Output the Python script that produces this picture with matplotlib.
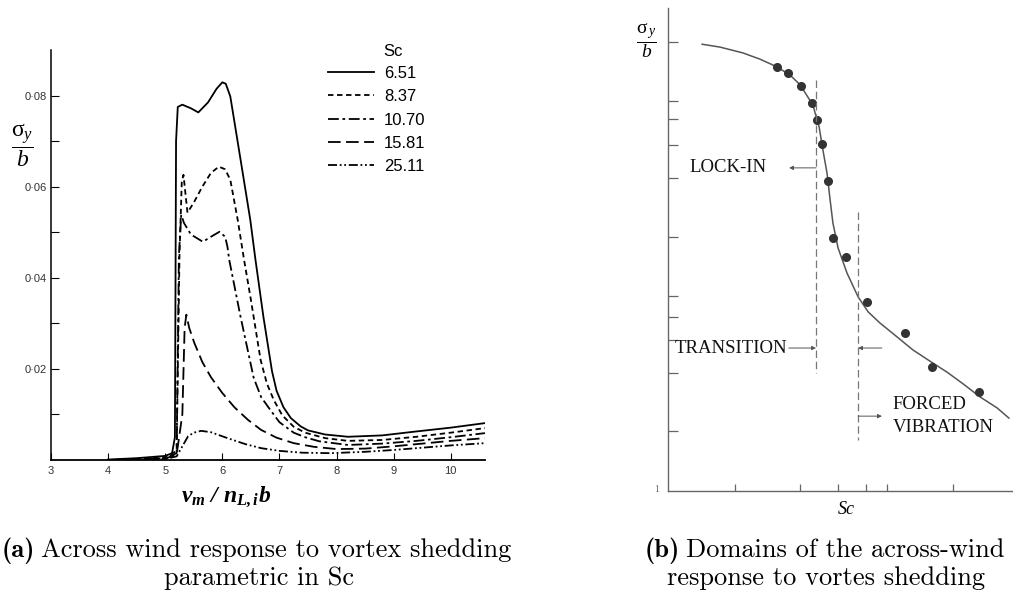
import matplotlib
matplotlib.use("Agg")
import matplotlib.pyplot as plt
from matplotlib.ticker import FixedLocator, NullFormatter

plt.rcParams["mathtext.fontset"] = "custom"
plt.rcParams["mathtext.rm"] = "Liberation Serif"
plt.rcParams["mathtext.it"] = "Liberation Serif:italic"
plt.rcParams["mathtext.bf"] = "Liberation Serif:bold"
plt.rcParams["mathtext.bfit"] = "Liberation Serif:italic:bold"

W, H = 1013, 594

# --- panel (a): response vs reduced velocity, one curve per Scruton number ---
sc_labels = ["6.51", "8.37", "10.70", "15.81", "25.11"]

x_651 = [4.0, 4.5, 5.0, 5.12, 5.17, 5.19, 5.22, 5.3, 5.45, 5.58, 5.75, 5.9, 6.0, 6.06, 6.14,
         6.32, 6.49, 6.58, 6.72, 6.87, 6.95, 7.07, 7.2, 7.37, 7.5, 7.8, 8.2, 8.8, 9.35, 10.0,
         10.6]
y_651 = [0.0001, 0.0004, 0.0009, 0.0015, 0.005, 0.070, 0.0775, 0.078, 0.0772, 0.0763, 0.0785,
         0.0815, 0.0829, 0.0826, 0.0798, 0.0659, 0.0527, 0.044, 0.0314, 0.0195, 0.0152, 0.0116,
         0.0092, 0.0074, 0.0065, 0.0056, 0.0051, 0.0054, 0.0062, 0.0071, 0.0081]

x_837 = [4.0, 4.5, 5.0, 5.2, 5.25, 5.29, 5.32, 5.35, 5.39, 5.5, 5.65, 5.8, 5.94, 6.05, 6.14,
         6.27, 6.38, 6.5, 6.67, 6.78, 6.9, 7.05, 7.25, 7.45, 7.8, 8.2, 8.8, 9.4, 10.0, 10.6]
y_837 = [0.0, 0.0002, 0.0006, 0.002, 0.045, 0.061, 0.0626, 0.059, 0.0543, 0.0565, 0.06, 0.063,
         0.0644, 0.0638, 0.0615, 0.0527, 0.044, 0.0352, 0.022, 0.0168, 0.0132, 0.0098, 0.0073,
         0.006, 0.0048, 0.0042, 0.0044, 0.0051, 0.006, 0.0070]

x_1070 = [4.0, 4.5, 5.0, 5.2, 5.24, 5.28, 5.33, 5.45, 5.66, 5.8, 5.95, 6.05, 6.09, 6.12, 6.32,
          6.55, 6.68, 6.84, 7.0, 7.25, 7.45, 7.7, 8.2, 8.8, 9.4, 10.0, 10.6]
y_1070 = [0.0, 0.0001, 0.0004, 0.0015, 0.045, 0.0538, 0.052, 0.0495, 0.0479, 0.049, 0.0501,
          0.049, 0.0468, 0.044, 0.0314, 0.018, 0.0138, 0.011, 0.0083, 0.006, 0.005, 0.0041,
          0.0033, 0.0036, 0.0042, 0.005, 0.0059]

x_1581 = [4.0, 5.0, 5.2, 5.3, 5.34, 5.37, 5.42, 5.51, 5.65, 5.8, 6.0, 6.21, 6.45, 6.68, 6.95,
          7.25, 7.6, 8.0, 8.5, 9.0, 9.5, 10.0, 10.6]
y_1581 = [0.0, 0.0003, 0.0012, 0.01, 0.029, 0.0319, 0.029, 0.0257, 0.0215, 0.0182, 0.0147,
          0.0116, 0.0088, 0.0066, 0.0049, 0.0037, 0.0029, 0.0024, 0.0025, 0.003, 0.0036, 0.0042,
          0.0048]

x_2511 = [4.0, 5.0, 5.2, 5.3, 5.4, 5.5, 5.63, 5.8, 6.09, 6.4, 6.68, 7.0, 7.4, 7.9, 8.5, 9.0,
          9.5, 10.0, 10.6]
y_2511 = [0.0, 0.0002, 0.0008, 0.003, 0.0052, 0.006, 0.0064, 0.0061, 0.0048, 0.0035, 0.0026,
          0.002, 0.0016, 0.0015, 0.0018, 0.0022, 0.0027, 0.0032, 0.0037]

x_series = [x_651, x_837, x_1070, x_1581, x_2511]
y_series = [y_651, y_837, y_1070, y_1581, y_2511]
styles = ["-", (0, (3, 2)), (0, (6, 2, 1.5, 2)), (0, (7, 3)), (0, (5, 1.5, 1, 1.5, 1, 1.5))]

a_xticks = [3, 4, 5, 6, 7, 8, 9, 10]
a_yticks = [0.02, 0.04, 0.06, 0.08]
a_yticklabels = ["0·02", "0·04", "0·06", "0·08"]
a_yminor = [0.01, 0.03, 0.05, 0.07]

# --- panel (b): domains of across-wind response ---
b_curve_x = [0.99, 1.51, 2.17, 2.67, 3.16, 3.54, 3.83, 4.20, 4.38, 4.49, 4.61, 4.70, 4.78,
             4.93, 5.19, 5.51, 5.80, 6.14, 6.64, 7.10, 7.59, 8.09, 8.55, 9.04, 9.54, 9.88]
b_curve_y = [9.25, 9.19, 9.07, 8.94, 8.78, 8.61, 8.41, 7.99, 7.54, 7.06, 6.58, 6.02, 5.55,
             5.03, 4.51, 4.02, 3.71, 3.48, 3.19, 2.92, 2.69, 2.46, 2.22, 1.95, 1.72, 1.51]
b_dots_x = [3.16, 3.48, 3.86, 4.17, 4.32, 4.46, 4.64, 4.78, 5.16, 5.77, 6.87, 7.65, 9.01]
b_dots_y = [8.78, 8.65, 8.39, 8.03, 7.68, 7.18, 6.42, 5.24, 4.84, 3.91, 3.27, 2.57, 2.05]
lockin_x, lockin_y = [4.29, 4.29], [8.51, 2.44]
forced_x, forced_y = [5.51, 5.51], [5.78, 1.06]
b_yticks = [9.30, 8.07, 7.70, 7.16, 6.48, 5.26, 4.04, 3.60, 3.13, 2.44, 1.24]
b_xticks = [1.94, 3.83, 4.93, 5.74, 6.35, 8.26]


def fpos(px, py):
    return px / W, 1 - py / H


fig = plt.figure(figsize=(W / 100, H / 100), dpi=100)

# ---------------- panel (a) ----------------
ax1 = fig.add_axes([51 / W, 134 / H, 434 / W, 410 / H])
for xs, ys, ls, lab in zip(x_series, y_series, styles, sc_labels):
    ax1.plot(xs, ys, color="black", lw=1.3, linestyle=ls, label=lab)
ax1.set_xlim(3, 10.6)
ax1.set_ylim(0, 0.09)
for s in ["top", "right"]:
    ax1.spines[s].set_visible(False)
ax1.spines["left"].set_linewidth(1.1)
ax1.spines["bottom"].set_linewidth(1.3)
ax1.set_xticks(a_xticks)
ax1.set_xticklabels([str(t) for t in a_xticks], fontsize=8, color="#333333",
                    family="Liberation Sans")
ax1.set_yticks(a_yticks)
ax1.set_yticklabels(a_yticklabels, fontsize=8, color="#333333", family="Liberation Sans")
ax1.yaxis.set_minor_locator(FixedLocator(a_yminor))
ax1.yaxis.set_minor_formatter(NullFormatter())
ax1.tick_params(axis="y", which="both", direction="in", length=6, width=0.8, pad=3)
ax1.tick_params(axis="x", direction="in", length=5, width=0.8, pad=4)

leg = ax1.legend(loc="upper left", bbox_to_anchor=fpos(328, 66), bbox_transform=fig.transFigure,
                 frameon=False, handlelength=2.75, handletextpad=0.6, labelspacing=0.5,
                 borderpad=0, borderaxespad=0, prop={"family": "Liberation Sans", "size": 12})
fig.text(*fpos(383, 52), "Sc", fontsize=12, family="Liberation Sans", ha="left", va="center")

fig.text(*fpos(22, 145), r"$\dfrac{\mathrm{\sigma}_{y}}{b}$", fontsize=17, ha="center",
         va="center")
fig.text(*fpos(226, 497), r"$\mathbfit{\nu_m\ /\ n_{L,i}b}$", fontsize=17, ha="center",
         va="center")

# ---------------- panel (b) ----------------
ax2 = fig.add_axes([668 / W, 103 / H, 345 / W, 483 / H])
ax2.plot(b_curve_x, b_curve_y, color="#555555", lw=1.1)
ax2.plot(b_dots_x, b_dots_y, "o", color="#333333", ms=5.5)
ax2.plot(lockin_x, lockin_y, color="#777777", lw=0.9, linestyle=(0, (6, 3)))
ax2.plot(forced_x, forced_y, color="#777777", lw=0.9, linestyle=(0, (6, 3)))
ax2.set_xlim(0, 10)
ax2.set_ylim(0, 10)
for s in ["top", "right"]:
    ax2.spines[s].set_visible(False)
for s in ["left", "bottom"]:
    ax2.spines[s].set_color("#666666")
    ax2.spines[s].set_linewidth(1.0)
ax2.set_xticks(b_xticks)
ax2.set_yticks(b_yticks)
ax2.set_xticklabels([])
ax2.set_yticklabels([])
ax2.tick_params(axis="y", direction="in", length=7, width=0.9, color="#666666")
ax2.tick_params(axis="x", direction="in", length=5, width=0.9, color="#666666")

serif = {"family": "Liberation Serif", "fontsize": 13.5, "color": "#111111"}
arrow = dict(arrowstyle="-|>", lw=0.7, color="#555555", mutation_scale=6, shrinkA=0, shrinkB=0)
ax2.text(2.87, 6.69, "LOCK-IN", ha="right", va="center", **serif)
ax2.annotate("", xy=(3.51, 6.69), xytext=(4.29, 6.69), arrowprops=arrow)
ax2.text(3.47, 2.96, "TRANSITION", ha="right", va="center", **serif)
ax2.annotate("", xy=(4.29, 2.96), xytext=(3.50, 2.96), arrowprops=arrow)
ax2.annotate("", xy=(5.51, 2.96), xytext=(6.20, 2.96), arrowprops=arrow)
ax2.annotate("", xy=(6.20, 1.55), xytext=(5.51, 1.55), arrowprops=arrow)
ax2.text(6.52, 1.80, "FORCED", ha="left", va="center", **serif)
ax2.text(6.52, 1.32, "VIBRATION", ha="left", va="center", **serif)

fig.text(*fpos(657, 489), "1", fontsize=7, family="Liberation Serif", color="#666666",
         ha="center", va="center")
fig.text(*fpos(846, 509), "Sc", fontsize=13, family="Liberation Serif", style="italic",
         ha="center", va="center")
fig.text(*fpos(646, 40), r"$\dfrac{\mathrm{\sigma}_{\,y}}{b}$", fontsize=14, ha="center",
         va="center")

# ---------------- captions ----------------
renderer = fig.canvas.get_renderer()
CAP = 19


def caption(px, py, tag, rest):
    t = fig.text(*fpos(px, py), tag, family="cmb10", fontsize=CAP, va="baseline", ha="left")
    bb = t.get_window_extent(renderer)
    fig.text((bb.x1 + 6) / W, 1 - py / H, rest, family="cmr10", fontsize=CAP,
             va="baseline", ha="left")


caption(2, 557, "(a)", "Across wind response to vortex shedding")
fig.text(*fpos(259, 585), "parametric in Sc", family="cmr10", fontsize=CAP, ha="center",
         va="baseline")
caption(645, 557, "(b)", "Domains of the across-wind")
fig.text(*fpos(826, 585), "response to vortes shedding", family="cmr10", fontsize=CAP,
         ha="center", va="baseline")

fig.savefig("out.png", dpi=100)
